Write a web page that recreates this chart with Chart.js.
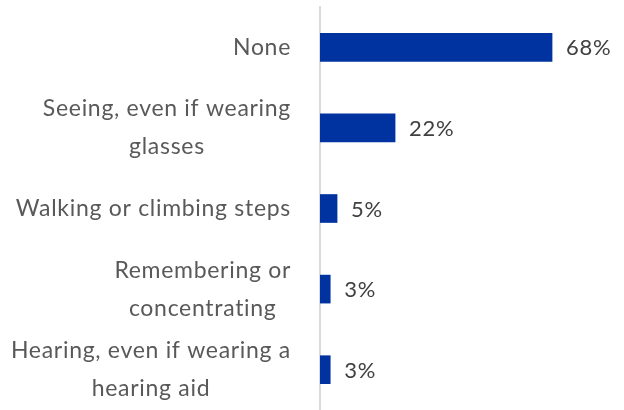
<!DOCTYPE html>
<html>
<head>
<meta charset="utf-8">
<script src="https://cdn.jsdelivr.net/npm/chart.js@4"></script>
<style>
  html, body { margin: 0; padding: 0; background: #fff; }
  #wrap { width: 624px; height: 410px; position: relative; }
</style>
</head>
<body>
<div id="wrap"><canvas id="chart"></canvas></div>
<script>
const categories = [
    'None',
    ['Seeing, even if wearing', 'glasses'],
    'Walking or climbing steps',
    ['Remembering or', 'concentrating'],
    ['Hearing, even if wearing a', 'hearing aid']
];
const shares = [68, 22, 5, 3, 3];
const valueLabels = ['68%', '22%', '5%', '3%', '3%'];

const FONT = 'Lato, "Open Sans", sans-serif';
const SPACING = '0.7px';
const LABEL_GAP = 29;
const LINE_H = 38;

// category names: block right-aligned to the axis, lines centred inside the block
const categoryLabels = {
    id: 'categoryLabels',
    afterDraw(chart) {
        const ctx = chart.ctx;
        const yScale = chart.scales.y;
        const right = chart.chartArea.left - LABEL_GAP;
        ctx.save();
        ctx.letterSpacing = SPACING;
        ctx.font = '23px ' + FONT;
        ctx.fillStyle = '#595959';
        ctx.textAlign = 'center';
        ctx.textBaseline = 'middle';
        categories.forEach((cat, i) => {
            const lines = Array.isArray(cat) ? cat : [cat];
            const blockW = Math.max(...lines.map(l => ctx.measureText(l).width));
            const cx = right - blockW / 2;
            const cy = yScale.getPixelForTick(i);
            const top = cy - (lines.length - 1) * LINE_H / 2;
            lines.forEach((l, j) => ctx.fillText(l, cx, top + j * LINE_H));
        });
        ctx.restore();
    }
};

// percent labels just past the end of each bar
const barLabels = {
    id: 'barLabels',
    afterDatasetsDraw(chart) {
        const ctx = chart.ctx;
        const meta = chart.getDatasetMeta(0);
        ctx.save();
        ctx.letterSpacing = SPACING;
        ctx.font = '22px ' + FONT;
        ctx.fillStyle = '#404040';
        ctx.textAlign = 'left';
        ctx.textBaseline = 'middle';
        meta.data.forEach((bar, i) => {
            ctx.fillText(valueLabels[i], bar.x + 14, bar.y + 1);
        });
        ctx.restore();
    }
};

new Chart(document.getElementById('chart').getContext('2d'), {
    type: 'bar',
    data: {
        labels: categories,
        datasets: [{
            data: shares,
            backgroundColor: '#0033A0',
            barThickness: 28
        }]
    },
    options: {
        indexAxis: 'y',
        responsive: true,
        maintainAspectRatio: false,
        animation: false,
        layout: { padding: { top: 7, right: 31, bottom: 0, left: 0 } },
        plugins: { legend: { display: false }, tooltip: { enabled: false } },
        scales: {
            x: {
                min: 0,
                max: 80,
                display: false
            },
            y: {
                grid: { display: false, drawTicks: false },
                border: { color: '#d9d9d9', width: 2 },
                ticks: { display: false },
                afterFit(scale) {
                    scale.width = 320;
                    scale.paddingTop = 0;
                    scale.paddingBottom = 0;
                }
            }
        }
    },
    plugins: [barLabels, categoryLabels]
});
</script>
</body>
</html>
